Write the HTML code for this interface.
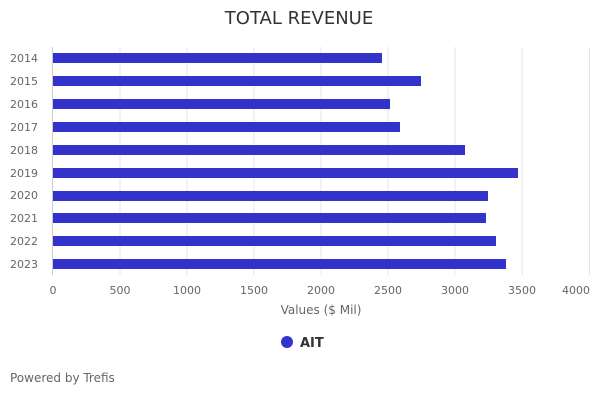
<!DOCTYPE html>
<html><head><style>
body{margin:0;background:#fff;width:600px;height:400px;overflow:hidden;font-family:"DejaVu Sans",sans-serif;}
</style></head><body>
<svg width="600" height="400" xmlns="http://www.w3.org/2000/svg" font-family="DejaVu Sans, sans-serif">
<text x="299" y="24" text-anchor="middle" font-size="18" fill="#333">TOTAL REVENUE</text>
<g stroke="#e6e6e6" stroke-width="1">
<line x1="120" y1="47" x2="120" y2="275"/><line x1="187" y1="47" x2="187" y2="275"/>
<line x1="254" y1="47" x2="254" y2="275"/><line x1="321" y1="47" x2="321" y2="275"/>
<line x1="388" y1="47" x2="388" y2="275"/><line x1="455" y1="47" x2="455" y2="275"/>
<line x1="522" y1="47" x2="522" y2="275"/><line x1="589.5" y1="47" x2="589.5" y2="275"/>
</g>
<line x1="52.5" y1="47" x2="52.5" y2="275" stroke="#ccc"/>
<g fill="#3333cc">
<rect x="53" y="53" width="329" height="10"/>
<rect x="53" y="76" width="368" height="10"/>
<rect x="53" y="99" width="337" height="10"/>
<rect x="53" y="122" width="347" height="10"/>
<rect x="53" y="145" width="412" height="10"/>
<rect x="53" y="168" width="465" height="10"/>
<rect x="53" y="191" width="435" height="10"/>
<rect x="53" y="213" width="433" height="10"/>
<rect x="53" y="236" width="443" height="10"/>
<rect x="53" y="259" width="453" height="10"/>
</g>
<g font-size="11" fill="#666" text-anchor="end">
<text x="38" y="62">2014</text><text x="38" y="85">2015</text><text x="38" y="108">2016</text>
<text x="38" y="131">2017</text><text x="38" y="154">2018</text><text x="38" y="177">2019</text>
<text x="38" y="199">2020</text><text x="38" y="222">2021</text><text x="38" y="245">2022</text>
<text x="38" y="268">2023</text>
</g>
<g font-size="11" fill="#666" text-anchor="middle">
<text x="53" y="294">0</text><text x="120" y="294">500</text><text x="187" y="294">1000</text>
<text x="254" y="294">1500</text><text x="321" y="294">2000</text><text x="388" y="294">2500</text>
<text x="455" y="294">3000</text><text x="522" y="294">3500</text><text x="576" y="294">4000</text>
</g>
<text x="321" y="314" text-anchor="middle" font-size="12" fill="#666">Values ($ Mil)</text>
<circle cx="287" cy="342" r="6" fill="#3333cc"/>
<text x="300" y="347" font-size="13" font-weight="bold" fill="#333">AIT</text>
<text x="10" y="382" font-size="12" fill="#666">Powered by Trefis</text>
</svg>
</body></html>
